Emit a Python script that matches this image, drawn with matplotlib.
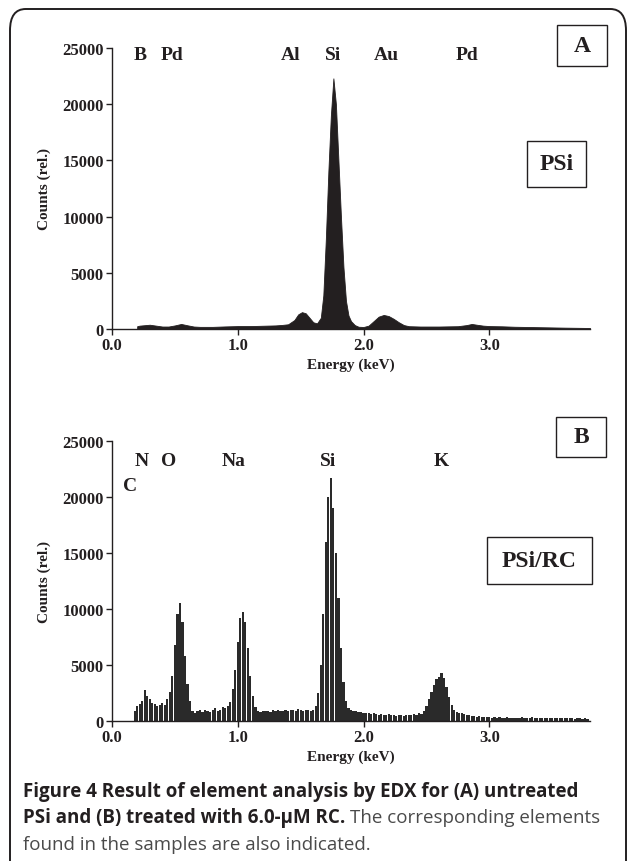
import numpy as np
import matplotlib.pyplot as plt
from matplotlib.patches import Rectangle, FancyBboxPatch

# ---- panel A: untreated PSi (smooth spectrum, read at key points) ----
energy_a = [0.20, 0.22, 0.25, 0.30, 0.35, 0.40, 0.45, 0.50, 0.55, 0.60,
            0.65, 0.70, 0.80, 0.90, 1.00, 1.10, 1.20, 1.30, 1.35, 1.40,
            1.45, 1.48, 1.51, 1.54, 1.57, 1.60, 1.63, 1.66, 1.68, 1.70,
            1.72, 1.74, 1.76, 1.78, 1.80, 1.82, 1.84, 1.86, 1.88, 1.90,
            1.93, 1.96, 2.00, 2.04, 2.08, 2.12, 2.16, 2.20, 2.24, 2.28,
            2.32, 2.36, 2.45, 2.60, 2.75, 2.82, 2.86, 2.90, 2.95, 3.00,
            3.10, 3.20, 3.40, 3.60, 3.80]
counts_a = [250, 300, 330, 380, 300, 220, 220, 320, 450, 330,
            220, 190, 190, 230, 260, 260, 290, 320, 360, 420,
            800, 1300, 1500, 1400, 1000, 600, 500, 1000, 3000, 8000,
            14000, 19000, 22300, 20000, 15000, 10000, 5500, 2500, 1200, 700,
            350, 200, 180, 300, 700, 1100, 1250, 1150, 900, 600,
            350, 250, 220, 220, 250, 350, 450, 380, 300, 260,
            240, 200, 160, 120, 90]
labels_a = ['B', 'Pd', 'Al', 'Si', 'Au', 'Pd']
label_pos_a = [0.22, 0.48, 1.42, 1.76, 2.18, 2.82]

# ---- panel B: PSi/RC (channel histogram, 0.02 keV channels from 0.18 keV) ----
start_b = 0.18
step_b = 0.02
counts_b = [900, 1300, 1500, 1800, 2700, 2200, 1900, 1600, 1500, 1300,
            1400, 1600, 1400, 1900, 2600, 4000, 6800, 9500, 10500, 8800,
            5800, 3300, 1800, 900, 700, 900, 1000, 800, 1000, 900,
            800, 1000, 1100, 900, 1000, 1200, 1100, 1300, 1700, 2800,
            4500, 7000, 9200, 9700, 8800, 6500, 4000, 2200, 1200, 900,
            800, 900, 850, 900, 800, 950, 900, 1000, 850, 900,
            1000, 900, 950, 1000, 900, 1050, 950, 900, 1000, 950,
            900, 1000, 1300, 2500, 5000, 9500, 16000, 20000, 21700, 19000,
            15000, 11000, 6500, 3500, 1800, 1100, 1000, 900, 850, 800,
            750, 700, 650, 700, 600, 650, 600, 550, 600, 500,
            550, 600, 500, 550, 450, 500, 550, 450, 500, 550,
            500, 600, 550, 700, 600, 900, 1300, 1900, 2600, 3200,
            3700, 3900, 4300, 3800, 3000, 2100, 1400, 1000, 800, 650,
            700, 600, 550, 500, 450, 400, 350, 400, 350, 300,
            350, 300, 250, 300, 250, 300, 280, 250, 300, 250,
            280, 230, 260, 220, 300, 250, 230, 260, 300, 250,
            220, 260, 230, 250, 200, 240, 260, 220, 250, 200,
            230, 210, 250, 200, 220, 180, 230, 200, 180, 210,
            170]
labels_b = ['N', 'O', 'Na', 'Si', 'K']
label_pos_b = [0.24, 0.45, 0.97, 1.72, 2.62]

y_ticks = [0, 5000, 10000, 15000, 20000, 25000]
x_ticks = [0, 1, 2, 3]
x_ticklabels = ['0.0', '1.0', '2.0', '3.0']

W, H = 629, 862
ink = '#231f20'
serif = 'Liberation Serif'


def fx(x):
    return x / W


def fy(y):
    return 1 - y / H


def style_axes(ax):
    ax.set_xlim(0, 3.8)
    ax.set_ylim(0, 25000)
    for side in ['top', 'right']:
        ax.spines[side].set_visible(False)
    for side in ['left', 'bottom']:
        ax.spines[side].set_linewidth(1.0)
        ax.spines[side].set_color(ink)
    ax.set_xticks(x_ticks)
    ax.set_xticklabels(x_ticklabels)
    ax.set_yticks(y_ticks)
    ax.set_yticklabels([str(v) for v in y_ticks])
    ax.tick_params(direction='out', length=4, width=1, color=ink, pad=2)
    for lab in ax.get_xticklabels() + ax.get_yticklabels():
        lab.set_fontfamily(serif)
        lab.set_fontweight('bold')
        lab.set_fontsize(12)
        lab.set_color(ink)
    ax.set_xlabel('Energy (keV)', fontfamily=serif, fontweight='bold',
                  fontsize=11, color=ink, labelpad=3)
    ax.set_ylabel('Counts (rel.)', fontfamily=serif, fontweight='bold',
                  fontsize=11, color=ink, labelpad=8)
    ax.patch.set_alpha(0)


def boxed_label(text, x0, y0, x1, y1, size):
    fig.patches.append(Rectangle((fx(x0), fy(y1)), (x1 - x0) / W, (y1 - y0) / H,
                                 transform=fig.transFigure, fill=False,
                                 edgecolor=ink, linewidth=1.0))
    fig.text(fx((x0 + x1) / 2), fy((y0 + y1) / 2), text, ha='center', va='center',
             fontfamily=serif, fontweight='bold', fontsize=size, color=ink)


fig = plt.figure(figsize=(W / 100, H / 100), dpi=100)

# outer rounded frame
fig.patches.append(FancyBboxPatch((fx(10), fy(900)), (626 - 10) / W, (900 - 10) / H,
                                  boxstyle='round,pad=0,rounding_size=0.025',
                                  transform=fig.transFigure, fill=False,
                                  edgecolor=ink, linewidth=1.4))

# panel A
ax_a = fig.add_axes([fx(112), fy(330), (590 - 112) / W, (330 - 49) / H])
ax_a.fill_between(energy_a, counts_a, 0, color=ink, linewidth=0.6, edgecolor=ink)
style_axes(ax_a)
for lab, pos in zip(labels_a, label_pos_a):
    ax_a.text(pos, 24450, lab, ha='center', va='center', fontfamily=serif,
              fontweight='bold', fontsize=14, color=ink)
boxed_label('A', 557, 26, 607, 67, 17)
boxed_label('PSi', 527, 142, 586, 188, 17)

# panel B
energy_b = start_b + step_b * np.arange(len(counts_b))
ax_b = fig.add_axes([fx(112), fy(721.7), (590 - 112) / W, (721.7 - 441.7) / H])
ax_b.bar(energy_b, counts_b, width=step_b * 0.88, color='#2a2a2a', linewidth=0)
style_axes(ax_b)
for lab, pos in zip(labels_b, label_pos_b):
    ax_b.text(pos, 23190, lab, ha='center', va='center', fontfamily=serif,
              fontweight='bold', fontsize=14, color=ink)
ax_b.text(0.14, 21040, 'C', ha='center', va='center', fontfamily=serif,
          fontweight='bold', fontsize=14, color=ink)
boxed_label('B', 556, 418, 606, 458, 17)
boxed_label('PSi/RC', 487, 538, 592, 585, 17)

# caption
cap_font = ['Open Sans', 'DejaVu Sans']
cap_size = 13.5
fig.text(fx(23), fy(792), 'Figure 4 Result of element analysis by EDX for (A) untreated',
         ha='left', va='center', fontfamily=cap_font, fontweight='bold',
         fontsize=cap_size, color=ink)
bold2 = fig.text(fx(23), fy(818), 'PSi and (B) treated with 6.0-\u03bcM RC.',
                 ha='left', va='center', fontfamily=cap_font, fontweight='bold',
                 fontsize=cap_size, color=ink)
fig.canvas.draw()
bb = bold2.get_window_extent()
fig.text(bb.x1 / W + 0.008, fy(818), 'The corresponding elements',
         ha='left', va='center', fontfamily=cap_font, fontsize=cap_size, color='#4a4a4a')
fig.text(fx(23), fy(845), 'found in the samples are also indicated.',
         ha='left', va='center', fontfamily=cap_font, fontsize=cap_size, color='#4a4a4a')

fig.savefig('out.png', dpi=100)
